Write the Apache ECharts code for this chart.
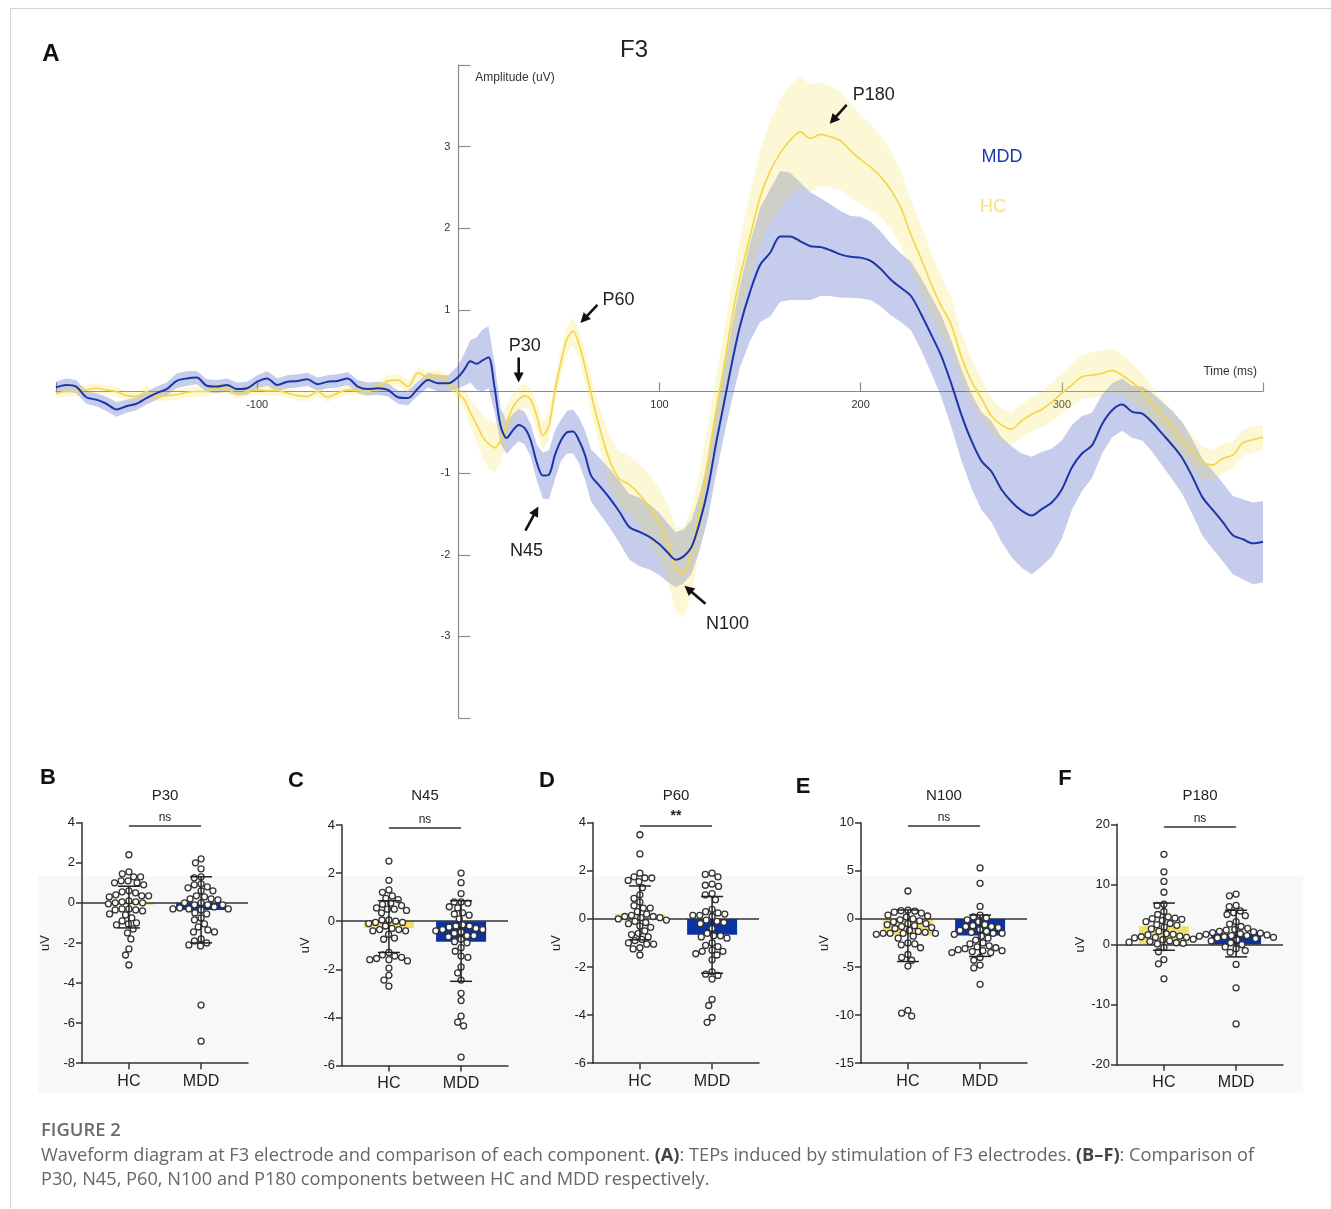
<!DOCTYPE html>
<html><head><meta charset="utf-8">
<script src="https://cdn.jsdelivr.net/npm/echarts@6/dist/echarts.min.js"></script>
<style>html,body{margin:0;padding:0;background:#fff}#c{width:1331px;height:1209px}</style>
</head><body><div id="c"></div>
<script>
// ---------- Panel A data (time in ms, amplitude in uV) ----------
const tms = [-200,-195,-190,-185,-180,-175,-170,-165,-160,-155,-150,-145,-140,-135,-130,-125,-120,-115,-110,-105,
 -100,-95,-90,-85,-80,-75,-70,-65,-60,-55,-50,-45,-40,-35,-30,-25,-20,-15,-10,-5,
 0,3,6,9,12,15,18,21,24,27,30,33,36,39,42,45,48,51,54,57,60,63,66,
 70,75,80,85,90,95,100,
 104,108,112,116,120,124,128,132,136,
 140,145,150,155,160,165,170,175,180,185,190,195,200,205,210,215,220,225,230,235,
 240,245,250,255,260,265,270,275,280,285,290,295,300,305,310,315,320,325,330,335,
 340,345,350,355,360,365,370,375,380,385,390,395,400];
const mddMean = [0.05,0.08,0.06,-0.07,-0.1,-0.15,-0.22,-0.18,-0.15,-0.08,-0.02,0.03,0.13,0.16,0.17,0.07,0.06,0.08,0.03,0.04,
 0.12,0.16,0.08,0.12,0.13,0.15,0.09,0.12,0.13,0.16,0.06,0.03,0.04,0.02,-0.07,-0.08,0.04,0.14,0.1,0.1,
 0.18,0.27,0.37,0.34,0.38,0.42,0.05,-0.42,-0.57,-0.48,-0.41,-0.45,-0.6,-0.87,-1.03,-1.02,-0.78,-0.6,-0.5,-0.49,-0.6,-0.78,-1.03,
 -1.15,-1.3,-1.47,-1.66,-1.72,-1.78,-1.87,
 -1.97,-2.06,-2.02,-1.9,-1.6,-1.2,-0.65,-0.15,0.35,
 0.8,1.22,1.55,1.7,1.9,1.9,1.84,1.78,1.77,1.73,1.68,1.65,1.64,1.6,1.5,1.37,1.27,1.17,0.95,0.7,
 0.44,0.1,-0.28,-0.6,-0.85,-0.98,-1.2,-1.35,-1.46,-1.52,-1.44,-1.36,-1.2,-0.93,-0.76,-0.66,-0.4,-0.23,-0.16,-0.25,
 -0.27,-0.38,-0.52,-0.66,-0.82,-1.05,-1.3,-1.45,-1.6,-1.76,-1.81,-1.86,-1.84];
const mddSE = [0.07,0.08,0.08,0.08,0.08,0.09,0.09,0.08,0.08,0.08,0.08,0.08,0.09,0.09,0.08,0.08,0.08,0.08,0.08,0.08,
 0.08,0.09,0.08,0.08,0.08,0.08,0.08,0.08,0.08,0.08,0.08,0.08,0.08,0.08,0.08,0.09,0.09,0.09,0.1,0.1,
 0.14,0.2,0.26,0.32,0.38,0.38,0.3,0.22,0.2,0.2,0.2,0.2,0.2,0.22,0.28,0.3,0.3,0.25,0.26,0.27,0.28,0.3,0.32,
 0.34,0.36,0.38,0.4,0.42,0.4,0.38,
 0.36,0.34,0.33,0.33,0.34,0.36,0.38,0.4,0.45,
 0.5,0.6,0.7,0.78,0.8,0.78,0.72,0.66,0.6,0.56,0.53,0.5,0.5,0.48,0.46,0.44,0.42,0.42,0.44,0.47,
 0.5,0.53,0.56,0.58,0.6,0.62,0.64,0.68,0.7,0.72,0.7,0.66,0.6,0.52,0.46,0.4,0.36,0.33,0.32,0.32,
 0.33,0.36,0.39,0.42,0.44,0.46,0.47,0.48,0.48,0.48,0.49,0.5,0.5];
const hcMean = [-0.03,0.0,0.0,0.02,0.04,0.02,0.0,-0.05,-0.06,0.0,-0.06,-0.05,-0.04,-0.01,0.0,0.0,0.04,0.03,-0.03,0.0,
 0.02,0.01,0.01,-0.02,-0.05,-0.06,0.0,-0.07,-0.02,0.02,0.01,0.0,0.05,0.13,0.14,0.06,0.23,0.17,0.2,0.12,
 -0.02,-0.1,-0.26,-0.4,-0.55,-0.64,-0.69,-0.6,-0.38,-0.2,-0.1,-0.05,-0.1,-0.3,-0.54,-0.42,0.0,0.36,0.64,0.74,0.58,0.3,-0.03,
 -0.42,-0.83,-1.07,-1.14,-1.26,-1.42,-1.62,
 -1.85,-2.17,-2.22,-1.95,-1.45,-0.85,-0.25,0.3,0.9,
 1.4,1.9,2.38,2.7,2.92,3.08,3.18,3.1,3.15,3.12,3.07,2.95,2.84,2.75,2.63,2.47,2.25,1.92,1.63,1.32,
 1.05,0.82,0.43,0.13,-0.08,-0.3,-0.41,-0.46,-0.36,-0.28,-0.22,-0.13,-0.02,0.08,0.18,0.2,0.22,0.26,0.2,0.11,
 0.0,-0.16,-0.3,-0.45,-0.6,-0.74,-0.87,-0.9,-0.82,-0.78,-0.63,-0.59,-0.56];
const hcSE = [0.05,0.06,0.06,0.06,0.06,0.06,0.06,0.06,0.06,0.06,0.06,0.06,0.06,0.06,0.06,0.06,0.06,0.06,0.06,0.06,
 0.06,0.06,0.06,0.06,0.06,0.06,0.06,0.06,0.06,0.06,0.06,0.06,0.06,0.07,0.07,0.07,0.07,0.07,0.07,0.07,
 0.08,0.12,0.17,0.22,0.26,0.3,0.3,0.28,0.22,0.17,0.15,0.15,0.15,0.16,0.17,0.17,0.16,0.16,0.16,0.17,0.18,0.2,0.22,
 0.25,0.3,0.33,0.35,0.37,0.4,0.43,
 0.47,0.52,0.55,0.52,0.47,0.43,0.42,0.42,0.44,
 0.47,0.52,0.57,0.62,0.66,0.68,0.68,0.66,0.64,0.62,0.6,0.57,0.55,0.52,0.5,0.47,0.45,0.42,0.4,0.38,
 0.36,0.33,0.3,0.27,0.24,0.22,0.2,0.2,0.2,0.21,0.22,0.24,0.25,0.26,0.27,0.28,0.28,0.27,0.25,0.23,
 0.22,0.21,0.2,0.2,0.2,0.2,0.2,0.19,0.18,0.17,0.16,0.16,0.15];
const xTickLabels = [-100, 100, 200, 300];
const yTickLabels = [-3, -2, -1, 1, 2, 3];
// annotated components: name, latency (ms), amplitude (uV) at arrow tip
const annNames = ['P30', 'P60', 'N45', 'N100', 'P180'];
const annT = [30, 60.7, 39.8, 112.4, 184.6];
const annV = [0.11, 0.84, -1.41, -2.38, 3.28];

// ---------- Panels B-F data ----------
const groups = ['HC', 'MDD'];
const components = ['P30', 'N45', 'P60', 'N100', 'P180'];
const sigLabels = ['ns', 'ns', '**', 'ns', 'ns'];
const yMins = [-8, -6, -6, -15, -20];
const yMaxs = [4, 4, 4, 10, 20];
const ySteps = [2, 2, 2, 5, 10];
const p30HC = [2.4,1.55,1.45,1.3,1.3,1.1,1.1,1.0,1.0,0.9,0.6,0.55,0.5,0.4,0.35,0.35,0.3,0.1,0.05,0.05,0.0,0.0,-0.05,-0.3,-0.3,-0.35,-0.35,-0.4,-0.6,-0.55,-0.75,-0.9,-1.0,-1.05,-1.1,-1.3,-1.5,-1.8,-2.3,-2.6,-3.1];
const p30MDD = [2.2,2.0,1.7,1.3,1.25,0.95,0.9,0.8,0.75,0.6,0.6,0.35,0.3,0.2,0.2,0.15,0.0,0.0,-0.1,-0.1,-0.1,-0.2,-0.25,-0.3,-0.3,-0.3,-0.35,-0.5,-0.55,-0.75,-0.85,-1.05,-1.2,-1.35,-1.45,-1.45,-1.8,-1.9,-2.0,-2.1,-2.15,-5.1,-6.9];
const n45HC = [2.5,1.7,1.3,1.2,1.05,0.95,0.9,0.75,0.7,0.65,0.55,0.5,0.45,0.5,0.35,0.05,0.0,-0.05,-0.05,0.05,-0.1,-0.2,-0.3,-0.35,-0.35,-0.4,-0.4,-0.55,-0.7,-0.75,-1.3,-1.4,-1.45,-1.5,-1.55,-1.6,-1.6,-1.65,-1.95,-2.25,-2.45,-2.7];
const n45MDD = [2.0,1.6,1.15,0.8,0.8,0.75,0.6,0.55,0.35,0.3,0.25,0.1,-0.15,-0.2,-0.25,-0.2,-0.3,-0.35,-0.35,-0.4,-0.45,-0.5,-0.6,-0.6,-0.65,-0.75,-0.85,-0.9,-1.1,-1.25,-1.45,-1.5,-1.9,-2.15,-2.45,-3.0,-3.3,-3.95,-4.2,-4.35,-5.65];
const p60HC = [3.5,2.7,1.9,1.75,1.7,1.7,1.6,1.55,1.3,1.0,0.85,0.7,0.55,0.45,0.45,0.3,0.2,0.15,0.1,0.1,0.05,0.05,0.0,-0.05,-0.1,-0.15,-0.2,-0.3,-0.35,-0.5,-0.6,-0.65,-0.75,-0.85,-0.9,-1.0,-1.05,-1.05,-1.2,-1.25,-1.5];
const p60MDD = [1.9,1.85,1.75,1.45,1.4,1.35,1.05,1.0,0.8,0.4,0.3,0.25,0.2,0.15,0.15,0.1,-0.05,-0.1,-0.15,-0.2,-0.4,-0.6,-0.7,-0.7,-0.75,-0.8,-1.0,-1.1,-1.15,-1.3,-1.35,-1.35,-1.45,-1.5,-1.7,-2.2,-2.3,-2.35,-2.5,-3.35,-3.6,-4.1,-4.3];
const n100HC = [2.9,0.9,0.8,0.85,0.7,0.6,0.4,0.3,0.2,0.0,-0.1,-0.2,-0.3,-0.5,-0.5,-0.6,-0.7,-0.8,-0.9,-1.0,-1.2,-1.3,-1.4,-1.5,-1.5,-1.5,-1.5,-1.6,-1.8,-2.0,-2.5,-2.6,-2.7,-3.0,-3.7,-4.0,-4.3,-4.9,-9.5,-9.8,-10.1];
const n100MDD = [5.3,3.7,1.3,0.4,0.2,0.1,-0.1,-0.3,-0.6,-0.7,-0.8,-0.8,-0.9,-1.1,-1.2,-1.3,-1.4,-1.5,-1.5,-1.6,-1.8,-2.0,-2.2,-2.5,-2.6,-2.8,-2.9,-3.0,-3.1,-3.2,-3.3,-3.3,-3.4,-3.5,-3.5,-4.0,-4.3,-4.8,-5.1,-6.8];
const p180HC = [15.0,12.1,10.5,8.7,6.7,6.5,5.5,5.0,4.6,4.4,4.3,4.2,4.0,3.8,3.5,3.3,3.2,2.9,2.6,2.2,1.8,1.7,1.6,1.4,1.3,1.2,1.2,1.1,0.9,0.8,0.6,0.5,0.4,0.3,0.2,0.1,-0.5,-1.2,-2.5,-3.2,-5.7];
const p180MDD = [8.4,8.1,6.5,6.3,5.6,5.3,5.0,4.8,3.8,3.4,3.0,2.7,2.5,2.4,2.2,2.1,2.0,1.9,1.8,1.7,1.6,1.5,1.5,1.4,1.3,1.2,1.1,1.0,0.8,0.6,0.3,0.0,-0.4,-0.7,-1.0,-1.3,-3.3,-7.2,-13.2];
const meanHC = [-0.1, -0.28, 0.2, -1.73, 3.05];
const meanMDD = [-0.35, -0.85, -0.66, -1.73, 1.78];
const errHC = [[-1.25, 0.83], [-1.3, 0.85], [-0.87, 1.37], [-4.43, 0.93], [-0.95, 6.9]];
const errMDD = [[-2.0, 1.3], [-2.5, 0.85], [-2.26, 0.93], [-3.9, 0.4], [-2.05, 5.7]];
const pointsHC = [p30HC, n45HC, p60HC, n100HC, p180HC];
const pointsMDD = [p30MDD, n45MDD, p60MDD, n100MDD, p180MDD];

// ---------- layout / style ----------
const FONT = 'Liberation Sans, Arial, sans-serif';
const BLUE = '#1c36a8', YEL = '#f5d64b';
const gridA = {left: 56, top: 65, width: 1207, height: 653};
const xRangeA = [-200, 400], yRangeA = [-4, 4];
const panelLeft = [82, 342, 593, 861, 1117];
const panelTop = [822.7, 825, 822.7, 822.7, 824.3];
const panelW = 166, panelH = 240.5;
const panelLetters = ['B', 'C', 'D', 'E', 'F'];
const letterPos = [[48, 778], [296, 781], [547, 781], [803, 787], [1065, 779]];

function swarm(vals, ppu, D) {
  const idx = vals.map((v, i) => i).sort((a, b) => vals[b] - vals[a]);
  const placed = [];
  const dx = new Array(vals.length).fill(0);
  idx.forEach(i => {
    const y = -vals[i] * ppu;
    const ivs = [];
    placed.forEach(p => {
      const dy = Math.abs(p.y - y);
      if (dy < D) { const h = Math.sqrt(D * D - dy * dy); ivs.push([p.x - h, p.x + h]); }
    });
    const cands = [0];
    ivs.forEach(iv => { cands.push(iv[0], iv[1]); });
    const ok = cands.filter(c => ivs.every(iv => c <= iv[0] + 1e-6 || c >= iv[1] - 1e-6));
    ok.sort((a, b) => Math.abs(a) - Math.abs(b) || a - b);
    dx[i] = ok[0]; placed.push({x: ok[0], y});
  });
  return dx;
}

// place axes of panel A through the origin (offset from grid edges)
const zeroXpx = gridA.width * (0 - xRangeA[0]) / (xRangeA[1] - xRangeA[0]);
const zeroYpx = gridA.height * (yRangeA[1] - 0) / (yRangeA[1] - yRangeA[0]);

const grids = [gridA];
const xAxes = [{
  gridIndex: 0, type: 'value', min: xRangeA[0], max: xRangeA[1], interval: 100, position: 'bottom',
  offset: -(gridA.height - zeroYpx),
  axisLine: {onZero: false, lineStyle: {color: '#8a8a8a', width: 1.2}},
  axisTick: {inside: true, length: 9, lineStyle: {color: '#8a8a8a', width: 1.2}},
  axisLabel: {formatter: v => xTickLabels.includes(v) ? String(v) : '', color: '#333', fontSize: 11, margin: 8, fontFamily: FONT},
  splitLine: {show: false},
  name: 'Time (ms)', nameLocation: 'end', nameGap: -6,
  nameTextStyle: {align: 'right', verticalAlign: 'bottom', padding: [0, 0, 14, 0], fontSize: 12, color: '#333', fontFamily: FONT}
}];
const yAxes = [{
  gridIndex: 0, type: 'value', min: yRangeA[0], max: yRangeA[1], interval: 1, position: 'left',
  offset: -zeroXpx,
  axisLine: {onZero: false, lineStyle: {color: '#8a8a8a', width: 1.2}},
  axisTick: {inside: true, length: 12, lineStyle: {color: '#8a8a8a', width: 1.2}},
  axisLabel: {formatter: v => yTickLabels.includes(v) ? String(v) : '', color: '#333', fontSize: 11, margin: 8, fontFamily: FONT},
  splitLine: {show: false},
  name: 'Amplitude (uV)', nameLocation: 'end', nameGap: -7,
  nameTextStyle: {align: 'left', verticalAlign: 'top', padding: [0, 0, 0, 17], fontSize: 12, color: '#333', fontFamily: FONT}
}];

const series = [];
function band(mean, se, color, z) {
  series.push({
    type: 'custom', xAxisIndex: 0, yAxisIndex: 0, z, silent: true, clip: true,
    encode: {x: 0, y: 1},
    data: tms.map((t, i) => [t, mean[i]]),
    renderItem: (params, api) => {
      if (params.dataIndex !== 0) return null;
      const up = tms.map((t, i) => api.coord([t, mean[i] + se[i]]));
      const lo = tms.map((t, i) => api.coord([t, mean[i] - se[i]])).reverse();
      return {type: 'polygon', shape: {points: up.concat(lo)}, style: {fill: color}};
    }
  });
}
band(mddMean, mddSE, 'rgba(55,80,190,0.29)', 1);
band(hcMean, hcSE, 'rgba(242,222,70,0.22)', 1);
series.push({type: 'line', name: 'HC', xAxisIndex: 0, yAxisIndex: 0, symbol: 'none', smooth: 0.3, z: 3,
  lineStyle: {color: YEL, width: 1.7}, data: tms.map((t, i) => [t, hcMean[i]])});
series.push({type: 'line', name: 'MDD', xAxisIndex: 0, yAxisIndex: 0, symbol: 'none', smooth: 0.3, z: 4,
  lineStyle: {color: BLUE, width: 2}, data: tms.map((t, i) => [t, mddMean[i]])});

for (let k = 0; k < 5; k++) {
  const gi = k + 1;
  grids.push({left: panelLeft[k], top: panelTop[k], width: panelW, height: panelH});
  xAxes.push({
    gridIndex: gi, type: 'value', min: -0.65, max: 1.65,
    axisLine: {onZero: false, lineStyle: {color: '#333', width: 1.5}},
    axisTick: {customValues: [0, 1], length: 6, lineStyle: {color: '#333', width: 1.5}},
    axisLabel: {customValues: [0, 1], formatter: v => groups[v] || '', fontSize: 16, color: '#222', margin: 10, fontFamily: FONT},
    splitLine: {show: false}
  });
  yAxes.push({
    gridIndex: gi, type: 'value', min: yMins[k], max: yMaxs[k], interval: ySteps[k],
    axisLine: {show: true, onZero: false, lineStyle: {color: '#333', width: 1.5}},
    axisTick: {show: true, length: 6, lineStyle: {color: '#333', width: 1.5}},
    axisLabel: {fontSize: 13, color: '#222', margin: 7, fontFamily: FONT},
    splitLine: {show: false},
    name: 'uV', nameLocation: 'middle', nameGap: 30, nameRotate: 90,
    nameTextStyle: {fontSize: 13, color: '#222', fontFamily: FONT}
  });
  const sigY = yMaxs[k] - 0.012 * (yMaxs[k] - yMins[k]);
  series.push({
    type: 'bar', xAxisIndex: gi, yAxisIndex: gi, barWidth: 50, z: 2, silent: true,
    data: [{value: [0, meanHC[k]], itemStyle: {color: '#f1df6a'}}, {value: [1, meanMDD[k]], itemStyle: {color: '#0b32a5'}}],
    markLine: {
      silent: true, symbol: 'none', animation: false,
      data: [
        {yAxis: 0, lineStyle: {color: '#333', width: 1.5, type: 'solid'}, label: {show: false}},
        [{coord: [0, sigY], lineStyle: {color: '#333', width: 1.5, type: 'solid'},
          label: {show: true, position: 'middle', formatter: sigLabels[k], color: '#222',
                  fontSize: sigLabels[k] === 'ns' ? 12 : 14, fontWeight: sigLabels[k] === 'ns' ? 'normal' : 'bold',
                  distance: 2, fontFamily: FONT}},
         {coord: [1, sigY]}]
      ]
    }
  });
  const ppu = panelH / (yMaxs[k] - yMins[k]);
  const dxH = swarm(pointsHC[k], ppu, 6.9);
  const dxM = swarm(pointsMDD[k], ppu, 6.9);
  const dots = pointsHC[k].map((v, i) => [0, v, dxH[i]]).concat(pointsMDD[k].map((v, i) => [1, v, dxM[i]]));
  series.push({
    type: 'custom', xAxisIndex: gi, yAxisIndex: gi, z: 5, silent: true,
    encode: {x: 0, y: 1},
    data: dots,
    renderItem: (params, api) => {
      const p = api.coord([api.value(0), api.value(1)]);
      return {type: 'circle', shape: {cx: p[0] + api.value(2), cy: p[1], r: 3},
        style: {fill: '#fff', stroke: '#333', lineWidth: 1.3}};
    }
  });
  series.push({
    type: 'custom', xAxisIndex: gi, yAxisIndex: gi, z: 6, silent: true,
    encode: {x: 0, y: [1, 2]},
    data: [[0, errHC[k][0], errHC[k][1]], [1, errMDD[k][0], errMDD[k][1]]],
    renderItem: (params, api) => {
      const lo = api.coord([api.value(0), api.value(1)]);
      const hi = api.coord([api.value(0), api.value(2)]);
      const st = {stroke: '#222', lineWidth: 1.5};
      return {type: 'group', children: [
        {type: 'line', shape: {x1: lo[0], y1: lo[1], x2: hi[0], y2: hi[1]}, style: st},
        {type: 'line', shape: {x1: lo[0] - 11, y1: lo[1], x2: lo[0] + 11, y2: lo[1]}, style: st},
        {type: 'line', shape: {x1: hi[0] - 11, y1: hi[1], x2: hi[0] + 11, y2: hi[1]}, style: st}
      ]};
    }
  });
}

const chart = echarts.init(document.getElementById('c'));
chart.setOption({
  animation: false,
  backgroundColor: '#fff',
  textStyle: {fontFamily: FONT},
  grid: grids, xAxis: xAxes, yAxis: yAxes, series
});

// ---------- graphic: labels, arrows, caption ----------
const g = [];
g.push({type: 'rect', shape: {x: 38, y: 876, width: 1265, height: 217}, style: {fill: '#f8f8f8'}, z: -10, silent: true});
g.push({type: 'line', shape: {x1: 10, y1: 8.5, x2: 1331, y2: 8.5}, style: {stroke: '#d4d4d4', lineWidth: 1}, z: 10});
g.push({type: 'line', shape: {x1: 10.5, y1: 8, x2: 10.5, y2: 1209}, style: {stroke: '#d4d4d4', lineWidth: 1}, z: 10});
function txt(x, y, text, font, fill, align) {
  g.push({type: 'text', x, y, z: 100, silent: true,
    style: {text, font, fill, textAlign: align || 'center', textVerticalAlign: 'middle'}});
}
txt(51, 54, 'A', 'bold 24px ' + FONT, '#111');
txt(634, 50, 'F3', '24px ' + FONT, '#222');
txt(1002, 157, 'MDD', '500 18px ' + FONT, '#1f3bab');
txt(993, 207, 'HC', '18px ' + FONT, '#f6e27c');
const tailOff = [[0, -25], [17, -18], [-13, 24], [21, 18], [17, -19]];
const labelOff = [[6, -36], [38, -23], [-12, 44], [43, 38], [44, -29]];
annNames.forEach((nm, i) => {
  const tip = chart.convertToPixel({gridIndex: 0}, [annT[i], annV[i]]);
  const tail = [tip[0] + tailOff[i][0], tip[1] + tailOff[i][1]];
  const dx = tip[0] - tail[0], dy = tip[1] - tail[1];
  const L = Math.sqrt(dx * dx + dy * dy), ux = dx / L, uy = dy / L;
  const hl = 10, hw = 5;
  const bx = tip[0] - ux * hl, by = tip[1] - uy * hl;
  g.push({type: 'line', z: 100, shape: {x1: tail[0], y1: tail[1], x2: bx + ux * 2, y2: by + uy * 2}, style: {stroke: '#111', lineWidth: 2.6}});
  g.push({type: 'polygon', z: 100, shape: {points: [[tip[0], tip[1]], [bx - uy * hw, by + ux * hw], [bx + uy * hw, by - ux * hw]]}, style: {fill: '#111'}});
  txt(tip[0] + labelOff[i][0], tip[1] + labelOff[i][1], nm, '18px ' + FONT, '#222');
});
for (let k = 0; k < 5; k++) {
  txt(letterPos[k][0], letterPos[k][1], panelLetters[k], 'bold 22px ' + FONT, '#111');
  txt(panelLeft[k] + panelW / 2, 796, components[k], '15px ' + FONT, '#222');
}
const CAP = '"Open Sans", "Noto Sans", sans-serif';
g.push({type: 'text', x: 41, y: 1131, z: 100, style: {text: 'FIGURE 2', font: '600 18.4px ' + CAP, fill: '#6b6b6b', textVerticalAlign: 'middle'}});
g.push({type: 'text', x: 41, y: 1156, z: 100, style: {
  text: 'Waveform diagram at F3 electrode and comparison of each component. {b|(A)}: TEPs induced by stimulation of F3 electrodes. {b|(B\u2013F)}: Comparison of',
  font: '18.2px ' + CAP, fill: '#666', textVerticalAlign: 'middle',
  rich: {b: {fontWeight: 'bold', fontSize: 18.2, fontFamily: CAP, fill: '#444'}}}});
g.push({type: 'text', x: 41, y: 1180, z: 100, style: {
  text: 'P30, N45, P60, N100 and P180 components between HC and MDD respectively.',
  font: '18.2px ' + CAP, fill: '#666', textVerticalAlign: 'middle'}});
chart.setOption({graphic: {elements: g}});
</script></body></html>
